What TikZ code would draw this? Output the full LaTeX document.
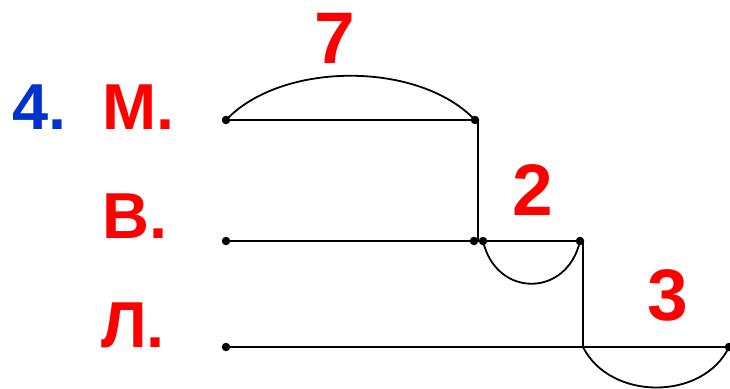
\documentclass[tikz,border=0pt]{standalone}
\usepackage{fontspec}
\setmainfont{Liberation Sans}
\definecolor{myred}{RGB}{255,0,0}
\definecolor{myblue}{RGB}{0,51,204}
\begin{document}
\begin{tikzpicture}[x=1pt,y=-1pt,
  seg/.style={line width=2pt,black},
  arcline/.style={line width=1.8pt,black},
  dot/.style={circle,fill=black,inner sep=0pt,minimum size=8.5pt},
  lbl/.style={anchor=base west,inner sep=0pt,font=\fontsize{65}{65}\selectfont\bfseries,text=myred},
  num/.style={anchor=base,inner sep=0pt,font=\fontsize{73}{73}\selectfont\bfseries,text=myred}]
\useasboundingbox (0,0) rectangle (730,388);
% labels
\node[lbl,text=myblue] (n4) at (12,129) {4.};
\node[lbl] (lm) at (102,129) {М.};
\node[lbl] (lv) at (102,238) {В.};
\node[lbl] (ll) at (101,347) {Л.};
\node[num] (n7) at (335,63) {7};
\node[num] (n2) at (533,215) {2};
\node[num] (n3) at (668,320) {3};
% points
\coordinate (a1) at (226,120);
\coordinate (a2) at (475,120);
\coordinate (a2v) at (478,120);
\coordinate (b1) at (226,241);
\coordinate (b2) at (474,241);
\coordinate (b2v) at (478,241);
\coordinate (b3) at (483,241);
\coordinate (b4) at (580,241);
\coordinate (b4v) at (583,241);
\coordinate (c1) at (226,347);
\coordinate (c2v) at (583,347);
\coordinate (c3) at (729,347);
% lines
\draw[seg] (a1) -- (a2v);
\draw[seg] (a2v) -- (b2v);
\draw[seg] (b1) -- (b4v);
\draw[seg] (b4v) -- (c2v);
\draw[seg] (c1) -- (c3);
% arcs
\draw[arcline] (a1) .. controls (282,61) and (419,61) .. (a2);
\draw[arcline] (b3) .. controls (496,298) and (567,298) .. (b4);
\draw[arcline] (c2v) .. controls (610,401) and (703,401) .. (c3);
% dots
\foreach \p in {a1,a2,b1,b2,b3,b4,c1,c3} \node[dot] at (\p) {};
\end{tikzpicture}
\end{document}
